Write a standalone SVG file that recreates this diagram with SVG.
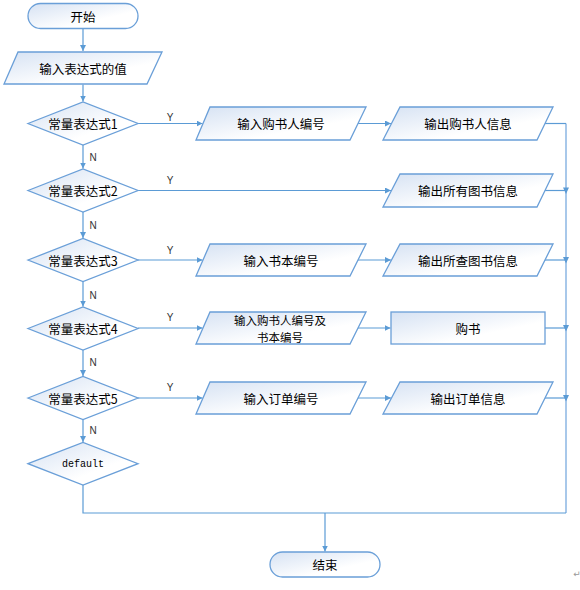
<svg xmlns="http://www.w3.org/2000/svg" width="580" height="590" viewBox="0 0 580 590">
<defs>
<linearGradient id="g" x1="0" y1="0" x2="1" y2="1">
<stop offset="0" stop-color="#d6e2f3"/>
<stop offset="0.65" stop-color="#ffffff"/>
</linearGradient>
<marker id="a" viewBox="0 0 10 10" refX="10" refY="5" markerWidth="6" markerHeight="6" markerUnits="userSpaceOnUse" orient="auto">
<path d="M0,0 L10,5 L0,10 z" fill="#5b9bd5"/>
</marker>
<style>
.s{fill:url(#g);stroke:#6a9fd8;stroke-width:1.3}
.t{font-family:"Noto Sans CJK SC","Liberation Sans",sans-serif;font-size:12.5px;fill:#000;text-anchor:middle;dominant-baseline:central}
.l{font-family:"Liberation Sans",sans-serif;font-size:10px;fill:#333;text-anchor:middle;dominant-baseline:central}
.c{fill:none;stroke:#5b9bd5;stroke-width:1.2}
.c2{fill:none;stroke:#a8c8ea;stroke-width:2}
</style>
</defs>
<rect width="580" height="590" fill="#fff"/>
<g id="connectors">
<path class="c" d="M83,28.5 V51" marker-end="url(#a)"/>
<path class="c" d="M83,84.5 V101.5" marker-end="url(#a)"/>
<path class="c" d="M83,145 V168.5" marker-end="url(#a)"/>
<path class="c" d="M83,212 V238" marker-end="url(#a)"/>
<path class="c" d="M83,281.5 V306.5" marker-end="url(#a)"/>
<path class="c" d="M83,350 V376" marker-end="url(#a)"/>
<path class="c" d="M83,419.5 V442" marker-end="url(#a)"/>
<path class="c" d="M138,123.5 H202.5" marker-end="url(#a)"/>
<path class="c" d="M138,190.5 H391" marker-end="url(#a)"/>
<path class="c" d="M138,260 H202.5" marker-end="url(#a)"/>
<path class="c" d="M138,328 H202.5" marker-end="url(#a)"/>
<path class="c" d="M138,398 H202.5" marker-end="url(#a)"/>
<path class="c" d="M358,123.5 H391" marker-end="url(#a)"/>
<path class="c" d="M358,260 H391" marker-end="url(#a)"/>
<path class="c" d="M358,328 H390.5" marker-end="url(#a)"/>
<path class="c" d="M358,398 H391" marker-end="url(#a)"/>
<path class="c2" d="M566,123.5 V513"/>
<path class="c" d="M545,123.5 H566"/>
<path class="c" d="M545,190.5 H566"/>
<path class="c" d="M545,260 H566"/>
<path class="c" d="M545,328 H566"/>
<path class="c" d="M545,398 H566"/>
<path d="M563,187.5 L569,187.5 L566,194 z M563,257 L569,257 L566,263.5 z M563,325 L569,325 L566,331.5 z M563,395 L569,395 L566,401.5 z" fill="#5b9bd5"/>
<path class="c" d="M83,485 V513 H566"/>
<path class="c" d="M325,513 V551.5" marker-end="url(#a)"/>
<text class="l" x="170" y="117">Y</text>
<text class="l" x="170" y="180">Y</text>
<text class="l" x="170" y="250">Y</text>
<text class="l" x="170" y="317">Y</text>
<text class="l" x="170" y="387">Y</text>
<text class="l" x="93" y="157">N</text>
<text class="l" x="93" y="225">N</text>
<text class="l" x="93" y="295">N</text>
<text class="l" x="93" y="362">N</text>
<text class="l" x="93" y="430">N</text>
</g>
<g id="start"><rect class="s" x="28" y="3.5" width="110" height="25" rx="12.5"/><text class="t" x="83" y="16">开始</text></g>
<g id="input"><path class="s" d="M18,52 H162 L147,84 H4 z"/><text class="t" x="83" y="68">输入表达式的值</text></g>
<g id="d1"><path class="s" d="M28,123.5 L83,102 L138,123.5 L83,145 z"/><text class="t" x="83" y="123.5">常量表达式1</text></g>
<g id="d2"><path class="s" d="M28,190.5 L83,169 L138,190.5 L83,212 z"/><text class="t" x="83" y="190.5">常量表达式2</text></g>
<g id="d3"><path class="s" d="M28,260 L83,238.5 L138,260 L83,281.5 z"/><text class="t" x="83" y="260">常量表达式3</text></g>
<g id="d4"><path class="s" d="M28,328.5 L83,307 L138,328.5 L83,350 z"/><text class="t" x="83" y="328.5">常量表达式4</text></g>
<g id="d5"><path class="s" d="M28,398 L83,376.5 L138,398 L83,419.5 z"/><text class="t" x="83" y="398">常量表达式5</text></g>
<g id="d6"><path class="s" d="M28,463.7 L83,442.4 L138,463.7 L83,485 z"/><text class="t" x="83" y="464" style="font-family:'Liberation Mono',monospace;font-size:10px">default</text></g>
<g id="in1"><path class="s" d="M210,107 H366 L350,140 H196 z"/><text class="t" x="281" y="123.5">输入购书人编号</text></g>
<g id="out1"><path class="s" d="M400,107 H553 L537,140 H383 z"/><text class="t" x="468" y="123.5">输出购书人信息</text></g>
<g id="out2"><path class="s" d="M400,174 H553 L537,207 H383 z"/><text class="t" x="468" y="190.5">输出所有图书信息</text></g>
<g id="in3"><path class="s" d="M210,244 H366 L350,276 H196 z"/><text class="t" x="281" y="260">输入书本编号</text></g>
<g id="out3"><path class="s" d="M400,244 H553 L537,276 H383 z"/><text class="t" x="468" y="260">输出所查图书信息</text></g>
<g id="in4"><path class="s" d="M210,312 H366 L350,344 H196 z"/><text class="t" x="280" y="319.5" style="font-size:11.5px">输入购书人编号及</text><text class="t" x="280" y="336.5" style="font-size:11.5px">书本编号</text></g>
<g id="buy"><rect class="s" x="391" y="312" width="154" height="32"/><text class="t" x="468" y="328">购书</text></g>
<g id="in5"><path class="s" d="M210,382 H366 L350,414 H196 z"/><text class="t" x="281" y="398">输入订单编号</text></g>
<g id="out5"><path class="s" d="M400,382 H553 L537,414 H383 z"/><text class="t" x="468" y="398">输出订单信息</text></g>
<g id="end"><rect class="s" x="270" y="552" width="110" height="25" rx="12.5"/><text class="t" x="325" y="564.5">结束</text></g>
<text x="577" y="577" style="font-family:'DejaVu Sans',sans-serif;font-size:9px;fill:#999;text-anchor:middle">↵</text>
</svg>
